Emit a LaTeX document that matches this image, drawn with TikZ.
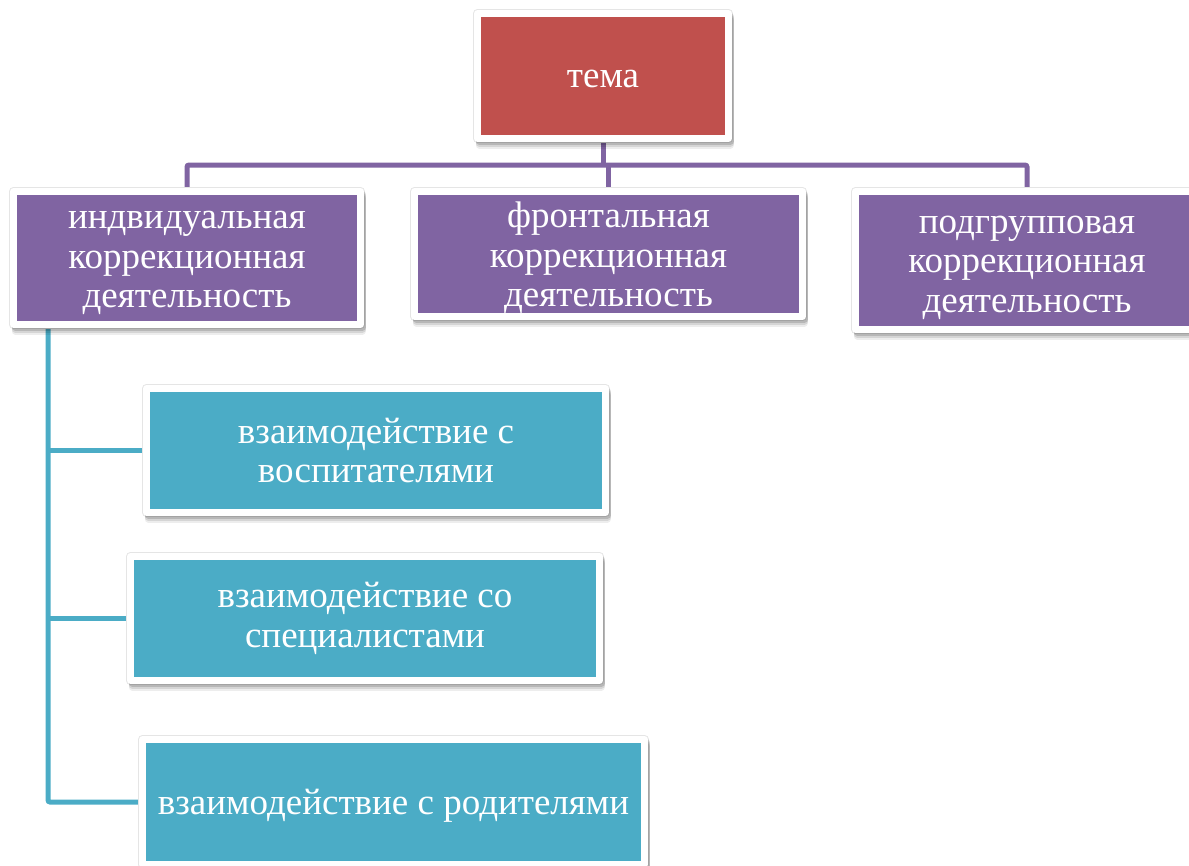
\documentclass[tikz,border=0pt]{standalone}
\usepackage{fontspec}
\setmainfont{Liberation Serif}
\usetikzlibrary{backgrounds}
\definecolor{cred}{HTML}{C0504D}
\definecolor{cpurple}{HTML}{8064A2}
\definecolor{cteal}{HTML}{4BACC6}
\tikzset{
  box/.style={rectangle, fill=#1, draw=white, line width=7pt, line join=round,
    inner sep=0pt,
    preaction={draw=black!10, line width=9.5pt, line join=round},
    preaction={transform canvas={xshift=1.5pt, yshift=-2.5pt}, draw=black, line width=7pt, line join=round, opacity=0.14},
    preaction={transform canvas={xshift=1.5pt, yshift=-4.5pt}, draw=black, line width=7pt, line join=round, opacity=0.10},
    preaction={transform canvas={xshift=1.5pt, yshift=-6.5pt}, draw=black, line width=7pt, line join=round, opacity=0.07}},
  txt/.style={text=white, align=center, font=\fontsize{37}{39.5}\selectfont, inner sep=0pt},
  pline/.style={draw=cpurple, line width=5pt},
  tline/.style={draw=cteal, line width=5pt, rounded corners=2pt},
}
\begin{document}
\begin{tikzpicture}[x=1pt,y=-1pt]
\useasboundingbox (0,0) rectangle (1189,865);
% nodes: minimum size = fill size + 7
\node[box=cred, minimum width=251pt, minimum height=125pt,
  label={[txt, yshift=-3pt]center:тема}] (tema) at (603,76) {};
\node[box=cpurple, minimum width=347pt, minimum height=133pt,
  label={[txt, yshift=-5pt]center:индвидуальная\\коррекционная\\деятельность}] (ind) at (187,258) {};
\node[box=cpurple, minimum width=388pt, minimum height=125pt,
  label={[txt, yshift=-4pt]center:фронтальная\\коррекционная\\деятельность}] (front) at (608.5,254) {};
\node[box=cpurple, minimum width=343pt, minimum height=138pt,
  label={[txt, yshift=-7pt]center:подгрупповая\\коррекционная\\деятельность}] (pod) at (1027,260.5) {};
\node[box=cteal, minimum width=459pt, minimum height=124pt,
  label={[txt]center:взаимодействие с\\воспитателями}] (v1) at (376,450.5) {};
\node[box=cteal, minimum width=469pt, minimum height=124pt,
  label={[txt]center:взаимодействие со\\специалистами}] (v2) at (365,618.5) {};
\node[box=cteal, minimum width=502pt, minimum height=125pt,
  label={[txt, yshift=-4pt]center:взаимодействие с родителями}] (v3) at (393.5,802) {};
\coordinate (bus) at (603,165);
\coordinate (trunk) at (48,321);
\begin{pgfonlayer}{background}
  \draw[pline] (tema.center) -- (bus);
  \draw[pline, rounded corners=2pt] (ind.center) |- (bus) -| (pod.center);
  \draw[pline] (front.center) -- (front.center |- bus);
  \draw[tline] (trunk) |- (v3.center);
  \draw[tline] (trunk |- v1.center) -- (v1.center);
  \draw[tline] (trunk |- v2.center) -- (v2.center);
\end{pgfonlayer}
\end{tikzpicture}
\end{document}
